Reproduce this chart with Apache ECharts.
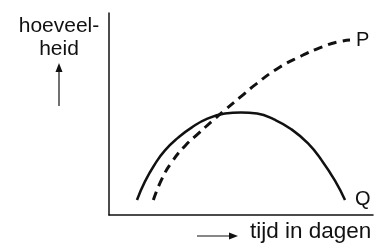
<!DOCTYPE html>
<html>
<head>
<meta charset="utf-8">
<script src="https://cdn.jsdelivr.net/npm/echarts@6/dist/echarts.min.js"></script>
<style>html,body{margin:0;padding:0;background:#fff;}#c{width:383px;height:243px;}</style>
</head>
<body>
<div id="c"></div>
<script>
// data (arbitrary units: x = tijd, y = hoeveelheid, both 0..100)
var qX = [10.6, 13.6, 17.4, 21.2, 26.1, 31.4, 37.5, 43.9, 50.0, 56.1, 62.5, 68.9, 75.4, 80.7, 85.6, 89.4];
var qY = [7.4, 16.5, 25.2, 32.0, 38.2, 43.4, 47.8, 50.2, 50.8, 50.2, 47.3, 42.6, 35.4, 26.8, 17.0, 7.4];
var pX = [16.8, 20.0, 23.8, 28.8, 33.8, 38.9, 43.9, 49.6, 55.3, 63.6, 72.3, 81.1, 87.5, 91.3];
var pY = [7.4, 17.8, 26.2, 34.2, 40.3, 46.3, 52.0, 58.2, 64.4, 72.3, 78.4, 83.4, 85.9, 86.6];
var seriesNames = ['Q', 'P'];
var yNameLines = ['hoeveel-', 'heid'];
var xName = 'tijd in dagen';

function pairs(xs, ys) { return xs.map(function (x, i) { return [x, ys[i]]; }); }

var FONT = 'Liberation Sans';
var chart = echarts.init(document.getElementById('c'), null, { renderer: 'canvas' });
chart.setOption({
  animation: false,
  backgroundColor: '#fff',
  grid: { left: 109, top: 13, right: 10, bottom: 28, containLabel: false },
  xAxis: {
    type: 'value', min: 0, max: 100,
    axisLine: { show: true, onZero: false, lineStyle: { color: '#111', width: 1.5 } },
    axisTick: { show: false }, axisLabel: { show: false }, splitLine: { show: false }
  },
  yAxis: {
    type: 'value', min: 0, max: 100,
    axisLine: { show: true, onZero: false, lineStyle: { color: '#111', width: 1.5 } },
    axisTick: { show: false }, axisLabel: { show: false }, splitLine: { show: false }
  },
  series: [
    {
      name: seriesNames[0], type: 'line', data: pairs(qX, qY), smooth: true, symbol: 'none',
      lineStyle: { color: '#111', width: 2.5 },
      endLabel: { show: true, formatter: seriesNames[0], color: '#111', fontFamily: FONT, fontSize: 20, distance: 10, offset: [0, -1] }
    },
    {
      name: seriesNames[1], type: 'line', data: pairs(pX, pY), smooth: true, symbol: 'none',
      lineStyle: { color: '#111', width: 3, type: [9, 6], cap: 'butt' },
      endLabel: { show: true, formatter: seriesNames[1], color: '#111', fontFamily: FONT, fontSize: 20, distance: 6 }
    }
  ],
  graphic: [
    { type: 'text', style: { x: 59, y: 26, text: yNameLines[0], textAlign: 'center', textVerticalAlign: 'middle', font: '21px "Liberation Sans"', fill: '#111' } },
    { type: 'text', style: { x: 59, y: 49.5, text: yNameLines[1], textAlign: 'center', textVerticalAlign: 'middle', font: '21px "Liberation Sans"', fill: '#111' } },
    { type: 'line', shape: { x1: 59, y1: 106, x2: 59, y2: 70 }, style: { stroke: '#111', lineWidth: 1.2 } },
    { type: 'polygon', shape: { points: [[59, 63], [55.5, 72], [62.5, 72]] }, style: { fill: '#111' } },
    { type: 'line', shape: { x1: 197, y1: 236, x2: 231, y2: 236 }, style: { stroke: '#111', lineWidth: 1.2 } },
    { type: 'polygon', shape: { points: [[238, 236], [229, 232.5], [229, 239.5]] }, style: { fill: '#111' } },
    { type: 'text', style: { x: 250, y: 232, text: xName, textAlign: 'left', textVerticalAlign: 'middle', font: '22.5px "Liberation Sans"', fill: '#111' } }
  ]
});
</script>
</body>
</html>
